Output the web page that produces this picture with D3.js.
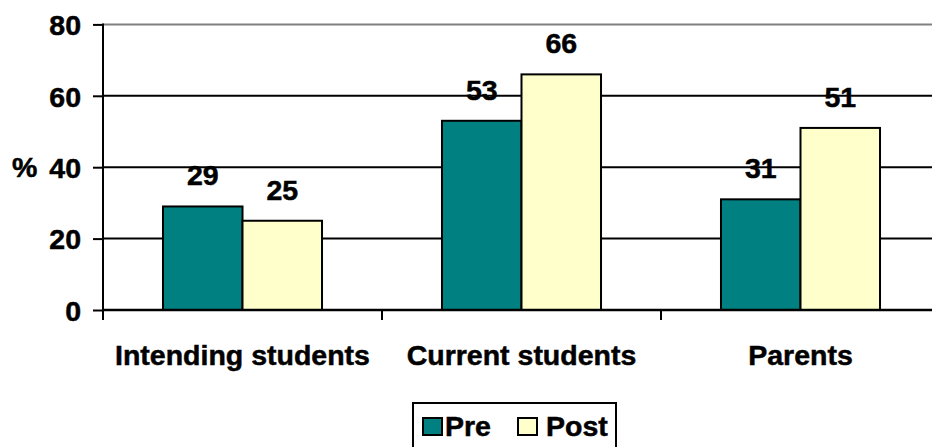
<!DOCTYPE html>
<html><head><meta charset="utf-8">
<script src="https://cdn.jsdelivr.net/npm/d3@7"></script>
<style>
html,body{margin:0;padding:0;background:#fff;overflow:hidden}
text{font-family:"Liberation Sans",Arial,sans-serif;font-weight:bold;fill:#000;stroke:#000;stroke-width:0.5px}
</style></head>
<body>
<svg id="chart" width="932" height="447"></svg>
<script>
const categories = ["Intending students", "Current students", "Parents"];
const seriesNames = ["Pre", "Post"];
const preValues = [29, 53, 31];
const postValues = [25, 66, 51];
const yTicks = [0, 20, 40, 60, 80];
const colors = {Pre: "#008080", Post: "#FFFFCC"};

const svg = d3.select("#chart");
const x0 = 103, x1 = 940, yBottom = 310, yTop = 24.4;
const fs = 28.5;

const x = d3.scaleBand().domain(categories).range([x0, x1]).paddingInner(0.43).paddingOuter(0.215);
const xs = d3.scaleBand().domain(seriesNames).range([0, x.bandwidth()]).padding(0);
const y = d3.scaleLinear().domain([0, 80]).range([yBottom, yTop]);

// gridlines
svg.append("g").selectAll("line").data(yTicks.filter(d => d > 0)).join("line")
  .attr("x1", x0).attr("x2", 932)
  .attr("y1", d => y(d)).attr("y2", d => y(d))
  .attr("stroke", d => d === 80 ? "#808080" : "#000").attr("stroke-width", 2);

// y axis
const yAxis = d3.axisLeft(y).tickValues(yTicks).tickSize(10).tickPadding(12);
const gy = svg.append("g").attr("transform", `translate(${x0},0)`).call(yAxis);
gy.select(".domain").remove();
gy.selectAll(".tick line").attr("stroke", "#000").attr("stroke-width", 2);
gy.selectAll(".tick text").attr("font-size", fs).attr("font-family", "Liberation Sans, Arial, sans-serif").attr("font-weight", "bold").attr("fill", "#000").attr("dy", "0.36em");
svg.append("line").attr("x1", x0).attr("x2", x0).attr("y1", yTop - 1).attr("y2", yBottom + 10).attr("stroke", "#000").attr("stroke-width", 2);

// % label
svg.append("text").attr("x", 12).attr("y", y(40)).attr("dy", "0.36em").attr("font-size", fs).text("%");

// bars
const data = categories.map((c, i) => ({cat: c, vals: [{s: "Pre", v: preValues[i]}, {s: "Post", v: postValues[i]}]}));
const groups = svg.append("g").selectAll("g").data(data).join("g")
  .attr("transform", d => `translate(${x(d.cat)},0)`);
groups.selectAll("rect").data(d => d.vals).join("rect")
  .attr("x", d => xs(d.s)).attr("width", xs.bandwidth())
  .attr("y", d => y(d.v)).attr("height", d => y(0) - y(d.v))
  .attr("fill", d => colors[d.s]).attr("stroke", "#000").attr("stroke-width", 2);
groups.selectAll("text").data(d => d.vals).join("text")
  .attr("x", d => xs(d.s) + xs.bandwidth() / 2).attr("y", d => y(d.v) - 21)
  .attr("text-anchor", "middle").attr("font-size", fs).text(d => d.v);

// x axis
svg.append("line").attr("x1", x0).attr("x2", 932).attr("y1", yBottom).attr("y2", yBottom).attr("stroke", "#000").attr("stroke-width", 2.5);
const boundaries = categories.map(c => x(c) - x.step() * x.paddingInner() / 2).slice(1);
svg.append("g").selectAll("line").data(boundaries).join("line")
  .attr("x1", d => d).attr("x2", d => d).attr("y1", yBottom).attr("y2", yBottom + 10)
  .attr("stroke", "#000").attr("stroke-width", 2);
svg.append("g").selectAll("text").data(categories).join("text")
  .attr("x", d => x(d) + x.bandwidth() / 2).attr("y", 365)
  .attr("text-anchor", "middle").attr("font-size", fs).text(d => d);

// legend
const lg = svg.append("g");
lg.append("rect").attr("x", 413).attr("y", 403).attr("width", 203).attr("height", 50)
  .attr("fill", "#fff").attr("stroke", "#000").attr("stroke-width", 2);
const items = [{s: "Pre", sx: 423, tx: 445}, {s: "Post", sx: 518, tx: 546}];
items.forEach(it => {
  lg.append("rect").attr("x", it.sx).attr("y", 418).attr("width", 19).attr("height", 17)
    .attr("fill", colors[it.s]).attr("stroke", "#000").attr("stroke-width", 2);
  lg.append("text").attr("x", it.tx).attr("y", 436).attr("font-size", fs).text(it.s);
});
</script>
</body></html>
